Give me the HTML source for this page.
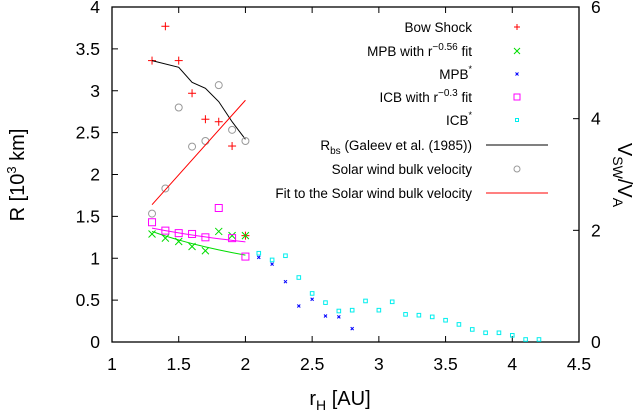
<!DOCTYPE html>
<html><head><meta charset="utf-8"><style>
html,body{margin:0;padding:0;background:#fff}
svg{display:block;font-family:"Liberation Sans","DejaVu Sans",sans-serif}
</style></head><body>
<svg id="chart" width="635" height="415" viewBox="0 0 635 415">
<g id="axes"></g><g id="marks"></g><g id="legend"></g>
</svg>
<script>
const rBow=[1.3,1.4,1.5,1.6,1.7,1.8,1.9,2.0];
const bowShock=[3.36,3.77,3.36,2.97,2.66,2.63,2.34,1.27];
const rGaleev=[1.3,1.5,1.6,1.7,1.8,1.9,2.0];
const galeev=[3.36,3.28,3.10,3.03,2.87,2.63,2.42];
const rMPB=[1.3,1.4,1.5,1.6,1.7,1.8,1.9,2.0];
const mpb=[1.29,1.24,1.20,1.14,1.09,1.32,1.27,1.27];
const mpbFitA=1.32, mpbFitExp=-0.56;
const rICB=[1.3,1.4,1.5,1.6,1.7,1.8,1.9,2.0];
const icb=[1.43,1.33,1.30,1.29,1.25,1.60,1.24,1.02];
const icbFitA=1.36, icbFitExp=-0.3;
const rMPBs=[2.1,2.2,2.3,2.4,2.5,2.6,2.7,2.8];
const mpbStar=[1.01,0.93,0.72,0.43,0.51,0.31,0.30,0.16];
const rICBs=[2.1,2.2,2.3,2.4,2.5,2.6,2.7,2.8,2.9,3.0,3.1,3.2,3.3,3.4,3.5,3.6,3.7,3.8,3.9,4.0,4.1,4.2];
const icbStar=[1.06,0.98,1.03,0.77,0.58,0.47,0.37,0.38,0.49,0.38,0.48,0.33,0.32,0.30,0.26,0.21,0.15,0.11,0.11,0.08,0.03,0.03];
const rSW=[1.3,1.4,1.5,1.6,1.7,1.8,1.9,2.0];
const swVel=[2.30,2.75,4.2,3.5,3.6,4.6,3.8,3.6];
const swFit=[2.46,4.33];
const xTicks=["1","1.5","2","2.5","3","3.5","4","4.5"];
const yTicks=["0","0.5","1","1.5","2","2.5","3","3.5","4"];
const y2Ticks=["0","2","4","6"];
const legendLabels=["Bow Shock","MPB with r^-0.56 fit","MPB*","ICB with r^-0.3 fit","ICB*","Rbs (Galeev et al. (1985))","Solar wind bulk velocity","Fit to the Solar wind bulk velocity"];

const L=112,R=579,T=7,B=342;
const X=v=>L+(v-1)/3.5*(R-L);
const Y=v=>B-v/4*(B-T);
const Y2=v=>B-v/6*(B-T);
const NS="http://www.w3.org/2000/svg";
function mk(tag,attrs,parent,text){const e=document.createElementNS(NS,tag);for(const k in attrs)e.setAttribute(k,attrs[k]);if(text!==undefined)e.textContent=text;parent.appendChild(e);return e;}
const axes=document.getElementById('axes'),marks=document.getElementById('marks'),leg=document.getElementById('legend');

let fr=mk('rect',{x:L,y:T,width:R-L,height:B-T,fill:'none',stroke:'#000','stroke-width':1.3},axes);


xTicks.forEach(t=>{const x=X(+t);
 let l=mk('line',{x1:x,x2:x,y1:B,y2:B-6,stroke:'#000'},axes);
 let l2=mk('line',{x1:x,x2:x,y1:T,y2:T+6,stroke:'#000'},axes);
 let tx=mk('text',{x:x,y:370,'font-size':17.5,'text-anchor':'middle'},axes,t);});
yTicks.forEach(t=>{const y=Y(+t);
 let l=mk('line',{x1:L,x2:L+6,y1:y,y2:y,stroke:'#000'},axes);
 let tx=mk('text',{x:100,y:y+6,'font-size':17.5,'text-anchor':'end'},axes,t);});
y2Ticks.forEach(t=>{const y=Y2(+t);
 let l=mk('line',{x1:R,x2:R-6,y1:y,y2:y,stroke:'#000'},axes);
 let tx=mk('text',{x:591,y:y+6,'font-size':17.5,'text-anchor':'start'},axes,t);});

let xt=mk('text',{x:340,y:405,'font-size':20,'text-anchor':'middle'},axes);

xt.innerHTML='r<tspan font-size="14" dy="5">H</tspan><tspan dy="-5"> [AU]</tspan>';
let yt=mk('text',{x:0,y:0,'font-size':20,'text-anchor':'middle',transform:'translate(24,175) rotate(-90)'},axes);

yt.innerHTML='R [10<tspan font-size="13" dy="-8">3</tspan><tspan dy="8"> km]</tspan>';
let y2t=mk('text',{x:0,y:0,'font-size':20,'text-anchor':'middle',transform:'translate(618,175) rotate(90)'},axes);

y2t.innerHTML='V<tspan font-size="14" dy="5">SW</tspan><tspan dy="-5">/V</tspan><tspan font-size="14" dy="5">A</tspan>';

function plus(x,y,c,p,s){const g=mk('g',{stroke:c,'stroke-width':1},p);mk('line',{x1:x-s,x2:x+s,y1:y,y2:y},g);mk('line',{x1:x,x2:x,y1:y-s,y2:y+s},g);return g;}
function cross(x,y,c,p,s){const g=mk('g',{stroke:c,'stroke-width':1},p);mk('line',{x1:x-s,x2:x+s,y1:y-s,y2:y+s},g);mk('line',{x1:x-s,x2:x+s,y1:y+s,y2:y-s},g);return g;}
function sq(x,y,c,p,s){const g=mk('g',{},p);mk('rect',{x:x-s,y:y-s,width:2*s,height:2*s,fill:'none',stroke:c,'stroke-width':1},g);return g;}
function circ(x,y,c,p,s){const g=mk('g',{},p);mk('circle',{cx:x,cy:y,r:s,fill:'none',stroke:c,'stroke-width':1},g);return g;}
function poly(pts,c,p){return mk('polyline',{points:pts.map(a=>a.join(',')).join(' '),fill:'none',stroke:c,'stroke-width':1},p);}

bowShock.forEach((v,i)=>{const g=plus(X(rBow[i]),Y(v),'#f00',marks,4);});
let gl=poly(rGaleev.map((r,i)=>[X(r),Y(galeev[i])]),'#000',marks);
swVel.forEach((v,i)=>{const g=circ(X(rSW[i]),Y2(v),'#999',marks,3.5);});
let sf=poly([[X(rSW[0]),Y2(swFit[0])],[X(rSW[rSW.length-1]),Y2(swFit[1])]],'#f00',marks);
mpb.forEach((v,i)=>{const g=cross(X(rMPB[i]),Y(v),'#0d0',marks,3.5);});
const fitR=[];for(let r=1.3;r<=2.0001;r+=0.05)fitR.push(r);
let mf=poly(fitR.map(r=>[X(r),Y(mpbFitA*Math.pow(r/1.3,mpbFitExp))]),'#0d0',marks);
icb.forEach((v,i)=>{const g=sq(X(rICB[i]),Y(v),'#f0f',marks,3.5);});
let icf=poly(fitR.map(r=>[X(r),Y(icbFitA*Math.pow(r/1.3,icbFitExp))]),'#f0f',marks);
mpbStar.forEach((v,i)=>{const g=cross(X(rMPBs[i]),Y(v),'#00f',marks,1.5);});
icbStar.forEach((v,i)=>{const g=sq(X(rICBs[i]),Y(v),'#0ee',marks,1.8);});

const ly=[27,51,74,97,120,145,169,193];
const lhtml=['Bow Shock','MPB with r<tspan font-size="10" dy="-6">−0.56</tspan><tspan dy="6"> fit</tspan>','MPB<tspan font-size="9" dy="-7">*</tspan>','ICB with r<tspan font-size="10" dy="-6">−0.3</tspan><tspan dy="6"> fit</tspan>','ICB<tspan font-size="9" dy="-7">*</tspan>','R<tspan font-size="10" dy="4">bs</tspan><tspan dy="-4"> (Galeev et al. (1985))</tspan>','Solar wind bulk velocity','Fit to the Solar wind bulk velocity'];
legendLabels.forEach((lab,i)=>{const g=mk('g',{},leg);
 
 
 const t=mk('text',{x:472,y:ly[i]+5,'font-size':13.5,'text-anchor':'end'},g);t.innerHTML=lhtml[i];
 const cx=517,cy=ly[i];
 if(i==0)plus(cx,cy,'#f00',g,3);else if(i==1)cross(cx,cy,'#0d0',g,3);else if(i==2)cross(cx,cy,'#00f',g,1.5);
 else if(i==3)sq(cx,cy,'#f0f',g,3);else if(i==4)sq(cx,cy,'#0ee',g,1.5);else if(i==5)mk('line',{x1:486,x2:548,y1:cy,y2:cy,stroke:'#000'},g);
 else if(i==6)circ(cx,cy,'#999',g,3);else mk('line',{x1:486,x2:548,y1:cy,y2:cy,stroke:'#f00'},g);
});
</script>
</body></html>
